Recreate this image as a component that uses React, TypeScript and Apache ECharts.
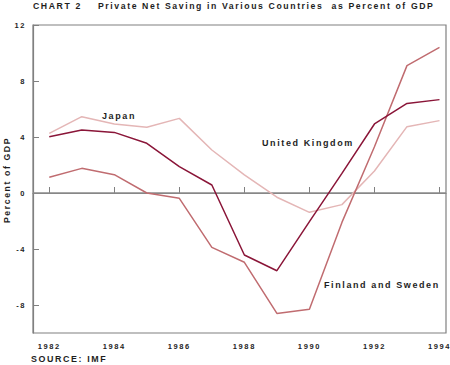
import React, { useEffect, useRef } from "react";
import * as echarts from "echarts";

const years = [1982, 1983, 1984, 1985, 1986, 1987, 1988, 1989, 1990, 1991, 1992, 1993, 1994];
const japan = [4.26, 5.45, 4.93, 4.69, 5.33, 3.07, 1.3, -0.3, -1.38, -0.83, 1.57, 4.74, 5.17];
const unitedKingdom = [4.02, 4.5, 4.33, 3.55, 1.88, 0.57, -4.43, -5.55, -2.05, 1.4, 4.93, 6.4, 6.67];
const finlandSweden = [1.12, 1.76, 1.31, 0.0, -0.38, -3.88, -4.95, -8.6, -8.3, -2.1, 3.3, 9.1, 10.4];
const xTicks = [1982, 1984, 1986, 1988, 1990, 1992, 1994];
const yTicks = [-8, -4, 0, 4, 8, 12];

const FONT = "Liberation Sans";
const INK = "#1e1e1e";

export default function App() {
  const ref = useRef<HTMLDivElement>(null);
  useEffect(() => {
    const chart = echarts.init(ref.current!, null, { renderer: "svg" });
    const pair = (arr: number[]) => years.map((y, i) => [y, arr[i]]);
    const lineSeries = (name: string, data: number[], color: string, extra: any = {}) => ({
      type: "line",
      name,
      data: pair(data),
      symbol: "none",
      lineStyle: { color, width: 1.5 },
      z: 3,
      ...extra,
    });
    const labelStyle = { fontFamily: FONT, fontWeight: "bold", fontSize: 9, fill: INK };
    chart.setOption({
      animation: false,
      backgroundColor: "#ffffff",
      grid: {
        left: 33,
        right: 4,
        top: 25,
        bottom: 32,
        outerBoundsMode: "none",
        containLabel: false,
        show: true,
        borderColor: "#808080",
        borderWidth: 1.2,
        backgroundColor: "transparent",
      },
      xAxis: {
        type: "value",
        min: 1981.5,
        max: 1994.2,
        axisLine: { show: true, lineStyle: { color: "#808080", width: 1.2 } },
        axisTick: {
          show: true,
          inside: true,
          length: 6,
          customValues: xTicks,
          lineStyle: { color: "#808080" },
        },
        axisLabel: {
          customValues: xTicks,
          formatter: (v: number) => String(v),
          color: INK,
          fontFamily: FONT,
          fontWeight: "bold",
          fontSize: 7.5,
          margin: 9,
        },
        splitLine: { show: false },
      },
      yAxis: {
        type: "value",
        min: -10,
        max: 12,
        axisLine: { show: true, lineStyle: { color: "#808080", width: 1.2 } },
        axisTick: {
          show: true,
          inside: true,
          length: 6,
          customValues: yTicks,
          lineStyle: { color: "#808080" },
        },
        axisLabel: {
          customValues: yTicks,
          formatter: (v: number) => String(v),
          color: INK,
          fontFamily: FONT,
          fontWeight: "bold",
          fontSize: 7.5,
          margin: 7,
        },
        splitLine: { show: false },
      },
      series: [
        lineSeries("Japan", japan, "#e4b6b6", {
          markLine: {
            silent: true,
            symbol: "none",
            label: { show: false },
            lineStyle: { color: "#8a8a8a", width: 1.5, type: "solid" },
            data: [{ yAxis: 0 }],
            z: 2,
          },
        }),
        lineSeries("Finland and Sweden", finlandSweden, "#c06c70"),
        lineSeries("United Kingdom", unitedKingdom, "#8a1538"),
      ],
      graphic: [
        {
          type: "text",
          left: 33,
          top: 1,
          style: {
            text: "CHART 2    Private Net Saving in Various Countries  as Percent of GDP",
            ...labelStyle,
            fontSize: 8.7,
          },
        },
        {
          type: "text",
          x: 7,
          y: 180,
          rotation: Math.PI / 2,
          style: {
            text: "Percent of GDP",
            ...labelStyle,
            fontSize: 8.7,
            align: "center",
            verticalAlign: "middle",
          },
        },
        { type: "text", left: 31, top: 354, style: { text: "SOURCE: IMF", ...labelStyle, fontSize: 8.9 } },
        { type: "text", left: 102, top: 111, style: { text: "Japan", ...labelStyle } },
        { type: "text", left: 262, top: 138, style: { text: "United Kingdom", ...labelStyle } },
        { type: "text", left: 324, top: 280, style: { text: "Finland and Sweden", ...labelStyle } },
      ],
    });
    return () => chart.dispose();
  }, []);
  return (
    <>
      <style>{`.pnschart text { letter-spacing: 1.6px; }`}</style>
      <div
        ref={ref}
        className="pnschart"
        style={{ width: 450, height: 365, position: "absolute", left: 0, top: 0 }}
      />
    </>
  );
}
